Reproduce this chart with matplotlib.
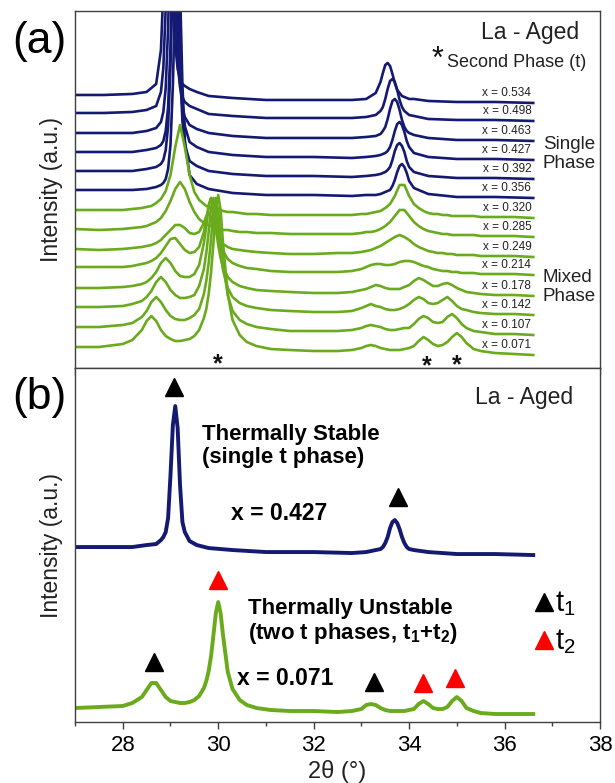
import matplotlib
matplotlib.use('Agg')
import matplotlib.pyplot as plt
from matplotlib.ticker import MultipleLocator

plt.rcParams['font.family'] = ['Liberation Sans', 'DejaVu Sans']
plt.rcParams['mathtext.fontset'] = 'custom'
plt.rcParams['mathtext.rm'] = 'Liberation Sans'
plt.rcParams['mathtext.bf'] = 'Liberation Sans:bold'

BLUE = '#141a72'
GREEN = '#6aab1e'

# 2theta grids (deg)
tt_blue = [27.0, 27.6, 28.2, 28.5, 28.7, 28.8, 28.85, 28.9, 28.95, 29.0, 29.05, 29.1, 29.15, 29.2, 29.25,
           29.3, 29.4, 29.55, 29.8, 30.3, 31.0, 32.0, 32.8, 33.1, 33.3, 33.4, 33.45, 33.5, 33.55, 33.6,
           33.65, 33.7, 33.75, 33.8, 33.85, 33.9, 33.95, 34.0, 34.1, 34.4, 35.0, 35.8, 36.6]
tt_green = [27.0, 27.5, 28.0, 28.2, 28.4, 28.5, 28.6, 28.7, 28.8, 28.9, 29.0, 29.1, 29.2, 29.3, 29.4,
            29.5, 29.6, 29.7, 29.75, 29.8, 29.85, 29.9, 29.95, 30.0, 30.05, 30.1, 30.2, 30.3, 30.45, 30.6,
            30.8, 31.1, 31.5, 32.0, 32.5, 32.8, 33.0, 33.1, 33.2, 33.3, 33.4, 33.5, 33.6, 33.7, 33.8,
            33.9, 34.0, 34.1, 34.2, 34.3, 34.4, 34.5, 34.6, 34.7, 34.8, 34.9, 35.0, 35.1, 35.2, 35.35,
            35.5, 35.8, 36.2, 36.6]

# (a) intensities above each trace's stacking offset (a.u.)
I_534 = [1, 1, 2, 4, 12, 46, 106, 202, 238, 202, 106, 51, 27, 17, 12, 10, 7, 4, 0, -2, -4, -4, -4, -3, 3,
         14, 23, 31, 33, 30, 22, 13, 6, 3, 0, -1, -2, -3, -3, -5, -6, -6, -7]
I_498 = [1, 1, 2, 4, 8, 22, 46, 106, 202, 238, 202, 106, 51, 27, 17, 12, 8, 5, 0, -2, -4, -4, -4, -3, -1,
         3, 7, 15, 25, 33, 35, 32, 24, 14, 7, 3, 1, -1, -2, -5, -6, -6, -7]
I_463 = [1, 1, 1, 3, 6, 12, 22, 46, 106, 202, 238, 202, 106, 51, 27, 17, 9, 5, 1, -2, -4, -4, -4, -3, -2,
         0, 3, 7, 15, 25, 33, 35, 32, 24, 14, 7, 3, 1, -1, -4, -6, -6, -7]
I_427 = [1, 1, 1, 3, 5, 8, 12, 22, 46, 106, 202, 238, 202, 106, 51, 27, 11, 6, 1, -2, -4, -4, -5, -4, -3,
         -2, -1, 0, 2, 6, 13, 22, 29, 31, 28, 21, 12, 6, 0, -4, -6, -6, -7]
I_392 = [1, 1, 1, 3, 5, 8, 12, 22, 46, 106, 202, 238, 202, 106, 51, 27, 11, 6, 1, -2, -4, -4, -5, -4, -3,
         -2, -1, 0, 2, 5, 12, 21, 27, 29, 26, 20, 11, 5, 0, -4, -6, -6, -7]
I_356 = [1, 1, 1, 2, 4, 6, 8, 12, 22, 46, 106, 202, 238, 202, 106, 51, 16, 7, 2, -2, -4, -4, -5, -4, -4,
         -3, -2, -1, 0, 1, 5, 11, 19, 25, 27, 24, 18, 10, 3, -3, -6, -6, -7]
I_320 = [1, 1, 1, 2, 3, 4, 5, 8, 12, 20, 36, 64, 86, 64, 36, 19, 11, 7, 5, 4, 3, 2, 2, 1, 1, 0, -1, -1, -2,
         -3, -3, -4, -4, -4, -4, -4, -3, -3, -2, -1, 0, 3, 7, 15, 26, 26, 15, 7, 3, 0, -2, -3, -3, -4, -4,
         -5, -5, -5, -5, -5, -6, -6, -6, -7]
I_285 = [1, 0, 1, 2, 3, 4, 6, 8, 12, 19, 29, 41, 48, 41, 28, 18, 11, 7, 6, 5, 4, 3, 2, 1, 1, 0, 0, -1, -2,
         -2, -3, -3, -4, -4, -4, -4, -3, -2, -2, -1, 1, 4, 8, 14, 20, 20, 14, 8, 4, 1, -1, -2, -3, -4, -4,
         -5, -5, -5, -5, -5, -6, -6, -6, -7]
I_249 = [1, 0, 1, 2, 3, 4, 5, 7, 10, 15, 20, 25, 25, 22, 17, 16, 18, 27, 34, 37, 33, 25, 18, 12, 9, 6, 3,
         1, 0, -1, -2, -3, -4, -4, -3, -3, -2, -1, 0, 2, 4, 7, 10, 13, 15, 13, 10, 6, 3, 1, -1, -2, -3, -3,
         -4, -4, -5, -5, -5, -5, -6, -6, -6, -7]
I_214 = [1, 1, 1, 2, 4, 5, 7, 10, 15, 22, 29, 30, 24, 18, 15, 16, 21, 36, 49, 63, 70, 63, 47, 34, 24, 17,
         9, 5, 2, 0, -1, -3, -4, -4, -4, -3, -1, 1, 3, 4, 4, 3, 3, 4, 6, 7, 7, 6, 4, 2, 1, -1, -2, -3, -3,
         -4, -4, -5, -5, -5, -6, -6, -6, -7]
I_178 = [1, 1, 2, 3, 5, 7, 11, 17, 26, 31, 26, 18, 13, 12, 12, 15, 24, 46, 62, 82, 91, 82, 61, 44, 31, 22,
         12, 7, 3, 1, -1, -2, -3, -4, -4, -3, -1, 0, 2, 4, 3, 1, 0, 0, 0, 2, 4, 8, 11, 9, 6, 3, 3, 5, 6, 4,
         1, -1, -3, -4, -5, -6, -6, -7]
I_142 = [1, 1, 2, 4, 7, 11, 17, 26, 31, 26, 18, 13, 10, 10, 11, 13, 22, 39, 55, 76, 100, 110, 99, 75, 54,
         38, 20, 11, 5, 2, 0, -2, -3, -4, -4, -3, 0, 2, 4, 2, 1, -1, -2, -2, -1, 1, 4, 8, 11, 9, 5, 4, 5, 8,
         11, 7, 2, -1, -2, -4, -5, -6, -6, -7]
I_107 = [1, 1, 3, 5, 11, 17, 26, 31, 26, 18, 12, 9, 8, 8, 10, 13, 19, 34, 47, 65, 89, 117, 130, 117, 89,
         64, 33, 17, 8, 4, 1, -1, -3, -3, -3, -2, 0, 2, 3, 2, 1, -1, -2, -2, -1, 0, 0, 4, 9, 12, 10, 6, 5,
         6, 11, 14, 10, 4, 0, -3, -4, -6, -6, -7]
I_071 = [1, 1, 4, 8, 18, 27, 32, 27, 18, 12, 9, 7, 7, 8, 9, 12, 18, 30, 39, 54, 76, 105, 138, 153, 138,
         105, 54, 28, 13, 6, 2, -1, -2, -3, -3, -2, 0, 2, 3, 2, 0, -1, -2, -2, -2, -1, 0, 2, 7, 11, 8, 4, 2,
         3, 6, 11, 15, 11, 5, -1, -3, -5, -6, -7]

traces_a = [I_534, I_498, I_463, I_427, I_392, I_356, I_320, I_285, I_249, I_214, I_178, I_142, I_107, I_071]
x_labels = ['0.534', '0.498', '0.463', '0.427', '0.392', '0.356', '0.320', '0.285', '0.249', '0.214',
            '0.178', '0.142', '0.107', '0.071']
offsets_a = [272, 254, 234, 215, 196, 177, 157, 138, 118, 100, 79, 60, 40, 20]

# (b) the two selected patterns
I_b_427 = [1, 1, 1, 3, 4, 8, 11, 16, 30, 73, 123, 142, 120, 63, 26, 16, 7, 3, 0, -2, -4, -4, -5, -4, -2,
           -1, 1, 5, 11, 20, 26, 28, 25, 19, 11, 5, 1, -1, -2, -4, -6, -6, -7]
I_b_071 = [0, 1, 2, 5, 11, 18, 25, 25, 18, 11, 7, 6, 5, 5, 6, 8, 12, 20, 27, 37, 52, 73, 95, 106, 95, 73,
           36, 19, 8, 3, 0, -2, -3, -3, -4, -3, -1, 3, 4, 3, 0, -2, -3, -3, -3, -3, -2, -1, 4, 7, 4, 0, -1,
           -1, 1, 7, 11, 7, 0, -3, -5, -6, -6, -6]
offset_b_427 = 174
offset_b_071 = 14

# phase markers in (b): 2theta and height
t1_x = [29.07, 33.76, 28.66, 33.27]
t1_y = [335, 225, 60, 40]
t2_x = [30.0, 34.28, 34.97]
t2_y = [142, 39, 44]

fig = plt.figure(figsize=(6.15, 7.83), dpi=100)
ax1 = fig.add_axes([0.122, 0.530, 0.8537, 0.456])
ax2 = fig.add_axes([0.122, 0.0779, 0.8537, 0.452])

# ---- panel (a)
for i, (I, off, lab) in enumerate(zip(traces_a, offsets_a, x_labels)):
    tt = tt_blue if i < 6 else tt_green
    col = BLUE if i < 6 else GREEN
    ax1.plot(tt, [v + off for v in I], color=col, lw=1.9, solid_joinstyle='round')
    ax1.text(36.56, off + 3, 'x = ' + lab, ha='right', va='center', fontsize=8.5, color='#222222', zorder=5)

ax1.set_xlim(27, 38)
ax1.set_ylim(0, 357)
ax1.set_yticks([])
ax1.xaxis.set_major_locator(MultipleLocator(1))
ax1.tick_params(axis='x', bottom=True, direction='out', length=5, width=1, color='#404040', labelbottom=False)
ax1.set_ylabel('Intensity (a.u.)', fontsize=16.5, color='#222222')
ax1.yaxis.set_label_coords(-0.022, 0.5)

ax1.text(35.5, 335, 'La - Aged', fontsize=16.5, va='center', ha='left', color='#222222')
ax1.text(34.6, 308, '*', fontsize=22, va='center', ha='center', color='#111111')
ax1.text(34.8, 305, 'Second Phase (t)', fontsize=13, va='center', ha='left', color='#222222')
ax1.text(36.8, 214, 'Single\nPhase', fontsize=13.5, va='center', ha='left', linespacing=1.15, color='#222222')
ax1.text(36.8, 81, 'Mixed\nPhase', fontsize=13.5, va='center', ha='left', linespacing=1.15, color='#222222')
for xs, ys in zip([30.0, 34.36, 35.0], [4, 2, 3]):
    ax1.text(xs, ys, '*', fontsize=18, fontweight='bold', ha='center', va='center', color='#111111')

# ---- panel (b)
ax2.plot(tt_blue, [v + offset_b_427 for v in I_b_427], color=BLUE, lw=2.8)
ax2.plot(tt_green, [v + offset_b_071 for v in I_b_071], color=GREEN, lw=2.8)
ax2.plot(t1_x, t1_y, ls='none', marker='^', ms=13, color='black')
ax2.plot(t2_x, t2_y, ls='none', marker='^', ms=13, color='red')
ax2.plot([36.83], [120], ls='none', marker='^', ms=13, color='black')
ax2.plot([36.83], [82], ls='none', marker='^', ms=13, color='red')
ax2.text(37.05, 118, r'$\mathregular{t_1}$', fontsize=21, va='center', ha='left')
ax2.text(37.05, 80, r'$\mathregular{t_2}$', fontsize=21, va='center', ha='left')

ax2.text(35.38, 325, 'La - Aged', fontsize=16.5, va='center', ha='left', color='#222222')
ax2.text(29.65, 276, 'Thermally Stable\n(single t phase)', fontsize=16, fontweight='bold',
         va='center', ha='left', linespacing=1.15)
ax2.text(30.26, 209, 'x = 0.427', fontsize=16.5, fontweight='bold', va='center', ha='left')
ax2.text(30.63, 100, 'Thermally Unstable\n' + r'(two t phases, $\mathbf{t_1}$+$\mathbf{t_2}$)',
         fontsize=16, fontweight='bold', va='center', ha='left', linespacing=1.15)
ax2.text(30.39, 44, 'x = 0.071', fontsize=16.5, fontweight='bold', va='center', ha='left')

ax2.set_xlim(27, 38)
ax2.set_ylim(0, 354)
ax2.set_yticks([])
ax2.xaxis.set_major_locator(MultipleLocator(2))
ax2.xaxis.set_minor_locator(MultipleLocator(1))
ax2.tick_params(axis='x', which='major', direction='out', length=5, width=1, color='#404040',
                labelsize=16, pad=4)
ax2.tick_params(axis='x', which='minor', direction='out', length=3, width=1, color='#404040')
ax2.set_xlabel('2θ (°)', fontsize=17, color='#222222', labelpad=3)
ax2.set_ylabel('Intensity (a.u.)', fontsize=16.5, color='#222222')
ax2.yaxis.set_label_coords(-0.022, 0.5)

for ax in (ax1, ax2):
    for sp in ax.spines.values():
        sp.set_color('#404040')
        sp.set_linewidth(1.0)

fig.text(39 / 615, 1 - 42 / 783, '(a)', fontsize=32, ha='center', va='center')
fig.text(39 / 615, 1 - 397 / 783, '(b)', fontsize=32, ha='center', va='center')

fig.savefig('out.png', dpi=100)
